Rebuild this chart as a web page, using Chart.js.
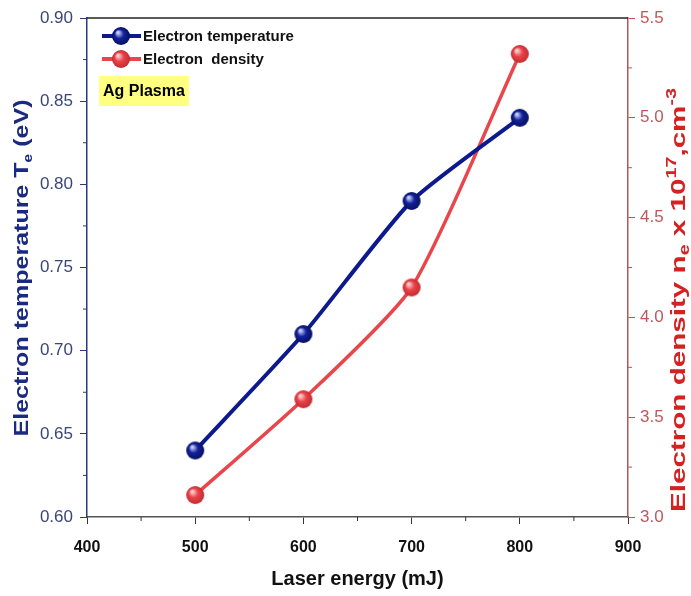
<!DOCTYPE html>
<html>
<head>
<meta charset="utf-8">
<script src="https://cdn.jsdelivr.net/npm/chart.js@4.4.1/dist/chart.umd.min.js"></script>
<style>
  html, body { margin: 0; padding: 0; background: #fff; }
  #wrap { width: 691px; height: 596px; }
</style>
</head>
<body>
<div id="wrap"><canvas id="chart" width="691" height="596"></canvas></div>
<script>
const energies = [500, 600, 700, 800];
const temperature = [0.64, 0.71, 0.79, 0.84];
const density = [3.11, 3.59, 4.15, 5.32];
const xRange = [400, 900];
const tempRange = [0.60, 0.90];
const densRange = [3.0, 5.5];
const seriesNames = ['Electron temperature', 'Electron  density'];

const FONT = '"Liberation Sans", Arial, sans-serif';
const NAVY = '#0d1a8e';
const RED = '#e8464b';

// shaded sphere marker
function makeBall(base, light, dark, r) {
    const c = document.createElement('canvas');
    c.width = c.height = r * 2 + 2;
    const g = c.getContext('2d');
    const grad = g.createRadialGradient(r + 1 - r * 0.35, r + 1 - r * 0.4, r * 0.1, r + 1, r + 1, r);
    grad.addColorStop(0, light);
    grad.addColorStop(0.45, base);
    grad.addColorStop(1, dark);
    g.fillStyle = grad;
    g.beginPath();
    g.arc(r + 1, r + 1, r, 0, Math.PI * 2);
    g.fill();
    return c;
}
const blueBall = makeBall('#13229a', '#c8d0ff', '#070f60', 9);
const redBall = makeBall('#e8444a', '#ffd0d0', '#c42a30', 9);

function toPoints(xs, ys) {
    return xs.map((x, i) => ({ x, y: ys[i] }));
}

// rotated title with sub/superscripts, stretched to a given length
function drawRich(ctx, segs, cx, cy, len, color) {
    ctx.save();
    ctx.translate(cx, cy);
    ctx.rotate(-Math.PI / 2);
    ctx.fillStyle = color;
    ctx.textBaseline = 'middle';
    ctx.textAlign = 'left';
    let total = 0;
    segs.forEach(s => { ctx.font = s.font; total += ctx.measureText(s.t).width; });
    ctx.scale(len / total, 1);
    let x = -total / 2;
    segs.forEach(s => {
        ctx.font = s.font;
        ctx.fillText(s.t, x, s.dy || 0);
        x += ctx.measureText(s.t).width;
    });
    ctx.restore();
}

const decorPlugin = {
    id: 'decor',
    afterDraw(chart) {
        const ctx = chart.ctx;
        const a = chart.chartArea;
        const sx = chart.scales.x, yl = chart.scales.y, yr = chart.scales.y2;
        ctx.save();
        // top frame line
        ctx.strokeStyle = '#222';
        ctx.lineWidth = 1.5;
        ctx.beginPath();
        ctx.moveTo(a.left, a.top);
        ctx.lineTo(a.right, a.top);
        ctx.stroke();
        // minor ticks
        ctx.lineWidth = 1;
        ctx.strokeStyle = '#333';
        for (let v = xRange[0] + 50; v < xRange[1]; v += 100) {
            const px = sx.getPixelForValue(v);
            ctx.beginPath(); ctx.moveTo(px, a.bottom); ctx.lineTo(px, a.bottom + 4); ctx.stroke();
        }
        ctx.strokeStyle = '#2b3a7a';
        for (let v = 0.625; v < 0.9; v += 0.05) {
            const py = yl.getPixelForValue(v);
            ctx.beginPath(); ctx.moveTo(a.left, py); ctx.lineTo(a.left - 4, py); ctx.stroke();
        }
        ctx.strokeStyle = '#b8555a';
        for (let v = 3.25; v < 5.5; v += 0.5) {
            const py = yr.getPixelForValue(v);
            ctx.beginPath(); ctx.moveTo(a.right, py); ctx.lineTo(a.right + 4, py); ctx.stroke();
        }
        // legend
        const items = [
            { name: seriesNames[0], color: NAVY, ball: blueBall, y: a.top + 18 },
            { name: seriesNames[1], color: RED, ball: redBall, y: a.top + 41 }
        ];
        items.forEach(it => {
            ctx.strokeStyle = it.color;
            ctx.lineWidth = 4;
            ctx.beginPath();
            ctx.moveTo(a.left + 15, it.y);
            ctx.lineTo(a.left + 54, it.y);
            ctx.stroke();
            ctx.drawImage(it.ball, a.left + 34 - it.ball.width / 2, it.y - it.ball.height / 2);
            ctx.fillStyle = '#111';
            ctx.font = 'bold 15px ' + FONT;
            ctx.textBaseline = 'middle';
            ctx.textAlign = 'left';
            ctx.fillText(it.name, a.left + 56, it.y + 1);
        });
        // Ag Plasma label
        ctx.fillStyle = '#ffff80';
        ctx.fillRect(a.left + 12, a.top + 58, 90, 30);
        ctx.fillStyle = '#000';
        ctx.font = 'bold 16px ' + FONT;
        ctx.fillText('Ag Plasma', a.left + 16, a.top + 74);
        ctx.restore();

        // axis titles
        drawRich(ctx, [
            { t: 'Electron temperature T', font: 'bold 21px ' + FONT },
            { t: 'e', font: 'bold 13px ' + FONT, dy: 6 },
            { t: ' (eV)', font: 'bold 21px ' + FONT }
        ], 22, 268, 337, '#1a2a80');
        drawRich(ctx, [
            { t: 'Electron density n', font: 'bold 21px ' + FONT },
            { t: 'e', font: 'bold 14px ' + FONT, dy: 6 },
            { t: ' x 10', font: 'bold 21px ' + FONT },
            { t: '17', font: 'bold 14px ' + FONT, dy: -7 },
            { t: ',cm', font: 'bold 21px ' + FONT },
            { t: '-3', font: 'bold 14px ' + FONT, dy: -7 }
        ], 679, 300, 424, '#d42222');
        ctx.save();
        ctx.fillStyle = '#111';
        ctx.font = 'bold 20px ' + FONT;
        ctx.textAlign = 'center';
        ctx.textBaseline = 'middle';
        ctx.fillText('Laser energy (mJ)', (a.left + a.right) / 2, 579);
        ctx.restore();
    }
};

new Chart(document.getElementById('chart'), {
    type: 'line',
    data: {
        datasets: [
            {
                label: seriesNames[0],
                data: toPoints(energies, temperature),
                yAxisID: 'y',
                borderColor: NAVY,
                borderWidth: 4,
                tension: 0.2,
                pointStyle: blueBall,
                pointRadius: 9
            },
            {
                label: seriesNames[1],
                data: toPoints(energies, density),
                yAxisID: 'y2',
                borderColor: RED,
                borderWidth: 3.5,
                tension: 0.2,
                pointStyle: redBall,
                pointRadius: 9
            }
        ]
    },
    options: {
        responsive: false,
        animation: false,
        layout: { padding: { top: 18, left: 0, right: 0, bottom: 0 } },
        plugins: { legend: { display: false }, tooltip: { enabled: false } },
        scales: {
            x: {
                type: 'linear',
                min: xRange[0], max: xRange[1],
                ticks: { stepSize: 100, color: '#111', font: { family: FONT, size: 16, weight: 'bold' }, padding: 14 },
                grid: { drawOnChartArea: false, tickLength: 7, tickColor: '#333' },
                border: { color: '#555', width: 1.5 },
                afterFit(s) { s.height = 79; }
            },
            y: {
                position: 'left',
                min: tempRange[0], max: tempRange[1],
                ticks: { stepSize: 0.05, color: '#3a4678', font: { family: FONT, size: 17 }, padding: 7,
                    callback: v => v.toFixed(2) },
                grid: { drawOnChartArea: false, tickLength: 7, tickColor: '#2b3a7a' },
                border: { color: '#2b3a7a', width: 1.5 },
                afterFit(s) { s.width = 87; }
            },
            y2: {
                position: 'right',
                min: densRange[0], max: densRange[1],
                ticks: { stepSize: 0.5, color: '#c0575c', font: { family: FONT, size: 17 }, padding: 5,
                    callback: v => v.toFixed(1) },
                grid: { drawOnChartArea: false, tickLength: 7, tickColor: '#b8555a' },
                border: { color: '#b8555a', width: 1.5 },
                afterFit(s) { s.width = 63; }
            }
        }
    },
    plugins: [decorPlugin]
});
</script>
</body>
</html>
